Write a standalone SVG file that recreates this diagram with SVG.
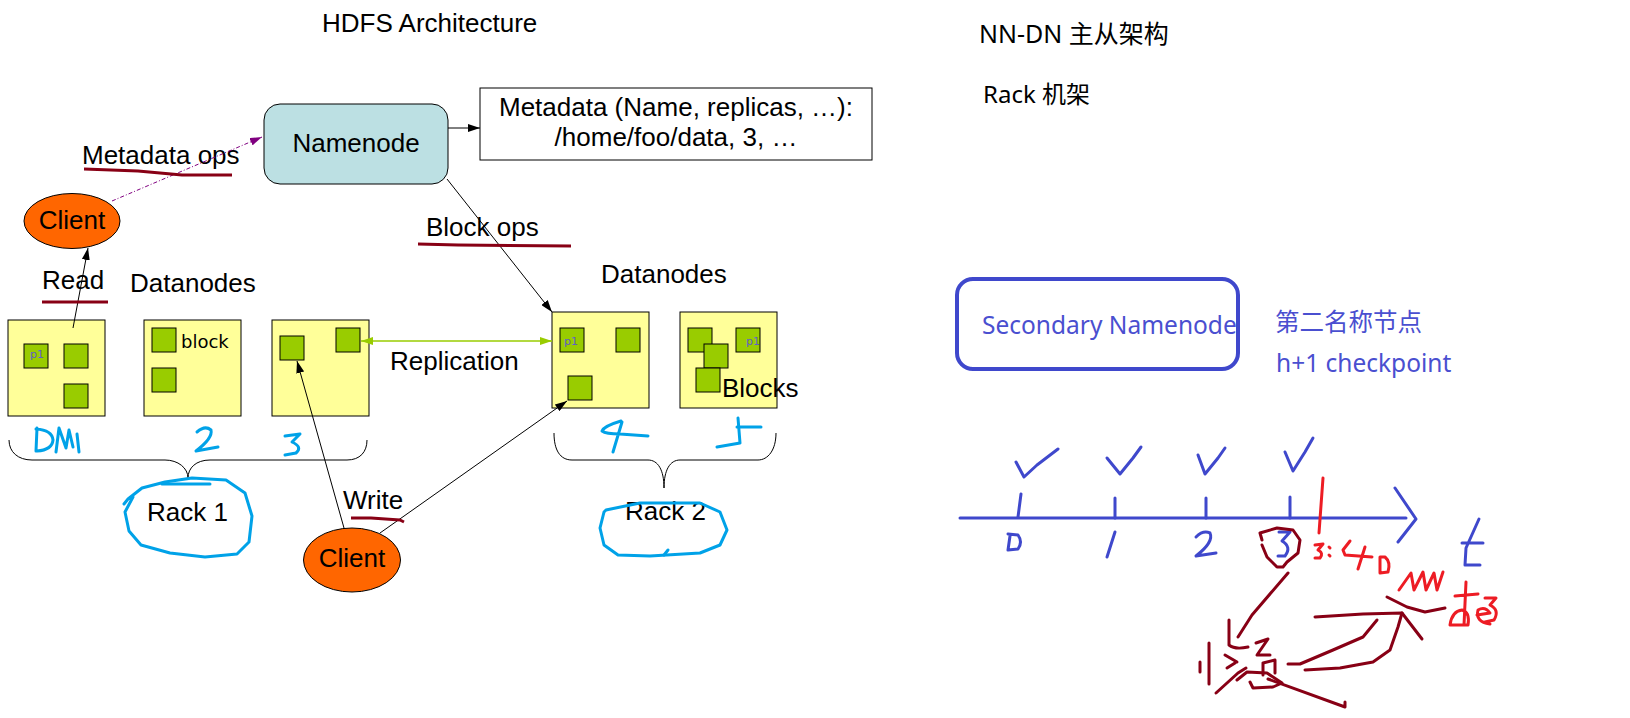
<svg xmlns="http://www.w3.org/2000/svg" width="1630" height="718" viewBox="0 0 1630 718">
<defs>
<style>
.t{font-family:"Liberation Sans",Arial,sans-serif;font-size:26px;fill:#000}
.ns{font-family:"Noto Sans","Noto Sans CJK SC",sans-serif;font-size:24px;fill:#000}
.sn{font-family:"Noto Sans","Noto Sans CJK SC",sans-serif;font-size:24.5px;fill:#4a4fd0}
.dn{fill:#ffff99;stroke:#000;stroke-width:1}
.blk{fill:#99cc00;stroke:#000;stroke-width:1}
.p1{font-family:"DejaVu Sans",sans-serif;font-size:11px;fill:#6060c8}
.cl{fill:#ff6600;stroke:#000;stroke-width:1}
.ln{fill:none;stroke:#000;stroke-width:1}
.ul{fill:none;stroke:#880015;stroke-width:3;stroke-linejoin:round}
.lb{fill:none;stroke:#00a2e8;stroke-width:3;stroke-linecap:round;stroke-linejoin:round}
.ind{fill:none;stroke:#3f48cc;stroke-width:3;stroke-linecap:round;stroke-linejoin:round}
.red{fill:none;stroke:#ed1c24;stroke-width:3;stroke-linecap:round;stroke-linejoin:round}
.dr{fill:none;stroke:#880015;stroke-width:3;stroke-linecap:round;stroke-linejoin:round}
</style>
<marker id="ab" viewBox="0 0 12 8" refX="12" refY="4" markerWidth="12" markerHeight="8" markerUnits="userSpaceOnUse" orient="auto"><path d="M0,0 L12,4 L0,8 z" fill="#000"/></marker>
<marker id="ap" viewBox="0 0 12 8" refX="12" refY="4" markerWidth="12" markerHeight="8" markerUnits="userSpaceOnUse" orient="auto"><path d="M0,0 L12,4 L0,8 z" fill="#800080"/></marker>
<marker id="ag" viewBox="0 0 12 8" refX="12" refY="4" markerWidth="12" markerHeight="8" markerUnits="userSpaceOnUse" orient="auto-start-reverse"><path d="M0,0 L12,4 L0,8 z" fill="#99cc00"/></marker>
</defs>
<rect width="1630" height="718" fill="#fff"/>

<text class="t" x="322" y="32">HDFS Architecture</text>

<g id="namenode">
<rect x="264" y="104" width="184" height="80" rx="16" fill="#bce0e3" stroke="#000" stroke-width="1"/>
<text class="t" x="356" y="152" text-anchor="middle">Namenode</text>
</g>

<g id="metadata">
<rect x="480" y="88" width="392" height="72" fill="#fff" stroke="#000" stroke-width="1"/>
<text class="t" x="676" y="116" text-anchor="middle">Metadata (Name, replicas, …):</text>
<text class="t" x="676" y="146" text-anchor="middle">/home/foo/data, 3, …</text>
</g>

<g id="client-read">
<ellipse class="cl" cx="72" cy="221" rx="48" ry="27.5"/>
<text class="t" x="72" y="229" text-anchor="middle">Client</text>
</g>

<g id="client-write">
<ellipse class="cl" cx="352" cy="560" rx="48.5" ry="32"/>
<text class="t" x="352" y="567" text-anchor="middle">Client</text>
</g>

<g id="dn1">
<rect class="dn" x="8" y="320" width="97" height="96"/>
<rect class="blk" x="24" y="344" width="24" height="24"/>
<text class="p1" x="30" y="358">p1</text>
<rect class="blk" x="64" y="344" width="24" height="24"/>
<rect class="blk" x="64" y="384" width="24" height="24"/>
</g>

<g id="dn2">
<rect class="dn" x="144" y="320" width="97" height="96"/>
<rect class="blk" x="152" y="328" width="24" height="24"/>
<rect class="blk" x="152" y="368" width="24" height="24"/>
<text x="181" y="348" style="font-family:'DejaVu Sans',sans-serif;font-size:18px;fill:#000">block</text>
</g>

<g id="dn3">
<rect class="dn" x="272" y="320" width="97" height="96"/>
<rect class="blk" x="280" y="336" width="24" height="24"/>
<rect class="blk" x="336" y="328" width="24" height="24"/>
</g>

<g id="dn4">
<rect class="dn" x="552" y="312" width="97" height="96"/>
<rect class="blk" x="560" y="328" width="24" height="24"/>
<text class="p1" x="564" y="345">p1</text>
<rect class="blk" x="616" y="328" width="24" height="24"/>
<rect class="blk" x="568" y="376" width="24" height="24"/>
</g>

<g id="dn5">
<rect class="dn" x="680" y="312" width="97" height="96"/>
<rect class="blk" x="688" y="328" width="24" height="24"/>
<rect class="blk" x="704" y="344" width="24" height="24"/>
<rect class="blk" x="696" y="368" width="24" height="24"/>
<rect class="blk" x="736" y="328" width="24" height="24"/>
<text class="p1" x="746" y="345">p1</text>
<text class="t" x="722" y="397">Blocks</text>
</g>

<g id="labels">
<text class="t" x="82" y="164">Metadata ops</text>
<text class="t" x="426" y="236">Block ops</text>
<text class="t" x="42" y="289">Read</text>
<text class="t" x="130" y="292">Datanodes</text>
<text class="t" x="601" y="283">Datanodes</text>
<text class="t" x="390" y="370">Replication</text>
<text class="t" x="343" y="509">Write</text>
<text class="t" x="147" y="521">Rack 1</text>
<text class="t" x="625" y="520">Rack 2</text>
</g>

<g id="connectors">
<line class="ln" x1="448" y1="128" x2="480" y2="128" marker-end="url(#ab)"/>
<line class="ln" x1="447" y1="179" x2="552" y2="312" marker-end="url(#ab)"/>
<line x1="112" y1="201" x2="262" y2="137" stroke="#800080" stroke-width="1" stroke-dasharray="4,2,1,2" marker-end="url(#ap)"/>
<line class="ln" x1="73" y1="328" x2="88" y2="248" marker-end="url(#ab)"/>
<line class="ln" x1="344" y1="528" x2="297" y2="361" marker-end="url(#ab)"/>
<line class="ln" x1="380" y1="533" x2="567" y2="401" marker-end="url(#ab)"/>
<line x1="361" y1="341" x2="552" y2="341" stroke="#99cc00" stroke-width="1.5" marker-start="url(#ag)" marker-end="url(#ag)"/>
<path class="ln" d="M9,440 C9,452 18,460 32,460 L165,460 C178,460 188,468 188,478 C188,468 196,460 210,460 L347,460 C360,460 367,452 367,440"/>
<path class="ln" d="M554,433 C554,450 560,460 572,460 L648,460 C658,460 664,470 664,488 C664,470 670,460 680,460 L758,460 C768,460 776,450 776,433"/>
</g>

<g id="underlines">
<path class="ul" d="M84,169 L138,171 L182,175 L232,175"/>
<path class="ul" d="M42,302 L108,302"/>
<path class="ul" d="M418,244 L458,245 L571,246"/>
<path class="ul" d="M351,518 L371,518 L400,520 L404,522"/>
</g>

<g id="rack-ink">
<path class="lb" d="M37,428 L36,451 M36,429 Q52,430 53,440 Q52,450 37,451"/>
<path class="lb" d="M56,452 L59,428 L66,448 L69,430 L73,447"/>
<path class="lb" d="M77,434 L79,452"/>
<path class="lb" d="M197,432 Q205,425 211,430 Q213,438 196,451 L218,447"/>
<path class="lb" d="M285,436 L300,434 L292,442 Q303,447 296,453 L285,455"/>
<path class="lb" d="M621,421 Q604,426 602,431 Q606,434 620,434 L648,436 M622,422 L613,452"/>
<path class="lb" d="M738,418 L740,443 L717,447 M737,427 L761,427"/>
<path class="lb" d="M124,504 L128,499 L142,488 L165,482 L192,478 L226,480 L245,493 L252,516 L249,542 L237,554 L205,557 L170,553 L141,545 L129,531 L125,512 L133,497"/>
<path class="lb" d="M162,484 L210,484" stroke-width="1.5"/>
<path class="lb" d="M606,510 L640,503 L700,503 L720,512 L727,530 L720,545 L700,553 L650,556 L618,555 L604,545 L600,528 L604,512 Z"/>
<path class="lb" d="M664,555 L668,550"/>
</g>

<g id="notes">
<text class="ns" x="979" y="43" style="font-size:25px">NN-DN 主从架构</text>
<text class="ns" x="983" y="103">Rack 机架</text>
</g>

<g id="secondary-namenode">
<rect x="957" y="279" width="281" height="90" rx="16" fill="none" stroke="#3f48cc" stroke-width="4"/>
<text class="sn" x="982" y="334">Secondary Namenode</text>
</g>
<g id="secondary-notes">
<text class="sn" x="1275" y="331">第二名称节点</text>
<text class="sn" x="1276" y="372">h+1 checkpoint</text>
</g>

<g id="timeline">
<path class="ind" stroke-width="4" d="M960,518 L1406,518"/>
<path class="ind" d="M1395,488 L1416,519 L1398,542"/>
<path class="ind" d="M1021,494 L1018,517 M1115,498 L1115,518 M1206,498 L1206,518 M1290,497 L1290,518"/>
<path class="ind" d="M1016,462 L1024,477 L1037,465 L1058,449"/>
<path class="ind" d="M1107,458 L1120,474 L1133,458 L1141,447"/>
<path class="ind" d="M1198,455 L1205,474 L1218,458 L1225,448"/>
<path class="ind" d="M1285,452 L1293,471 L1305,452 L1313,438"/>
<path class="ind" d="M1010,536 L1008,550 L1018,549 Q1023,542 1018,535 L1008,534"/>
<path class="ind" d="M1115,532 L1107,557"/>
<path class="ind" d="M1196,537 Q1203,530 1210,533 Q1214,542 1196,556 L1216,553"/>
<path class="ind" d="M1279,532 L1290,532 L1282,541 Q1292,547 1285,556 L1278,556"/>
<path class="ind" d="M1479,519 L1466,548 L1465,565 L1480,565 M1462,543 L1483,543"/>
<path class="red" d="M1323,478 L1319,533"/>
<path class="red" d="M1315,545 L1323,544 L1318,550 Q1324,553 1320,558 L1315,558 M1329,547 L1330,548 M1329,555 L1330,556"/>
<path class="red" d="M1350,541 L1343,550 L1345,555 L1372,557 M1365,547 L1358,569"/>
<path class="red" d="M1380,557 L1380,573 L1388,572 Q1391,562 1385,557 Z"/>
<path class="red" d="M1399,590 L1411,573 L1414,590 L1423,572 L1426,590 L1434,573 L1437,590 L1443,572"/>
<path class="red" d="M1466,582 L1464,625 M1455,596 L1478,594 M1450,625 Q1452,611 1462,610 Q1470,612 1468,625 L1450,625 M1477,615 L1490,613 Q1485,606 1478,610 Q1475,622 1490,624 M1485,598 L1496,598 L1490,605 Q1500,610 1494,620 L1485,622"/>
</g>

<g id="recover-ink">
<path class="dr" d="M1262,540 L1260,533 L1277,528 L1293,530 L1300,540 L1298,553 L1287,562 L1283,567 L1277,567 L1267,557 L1262,545"/>
<path class="dr" d="M1288,573 L1252,615 L1238,637"/>
<path class="dr" d="M1229,620 L1229,645 Q1235,650 1248,647"/>
<path class="dr" d="M1209,643 L1209,684 M1200,662 L1200,672"/>
<path class="dr" d="M1225,655 L1237,662 M1227,668 L1235,663"/>
<path class="dr" d="M1216,693 L1238,673 L1246,668"/>
<path class="dr" d="M1256,643 L1268,639 L1257,655 L1270,655"/>
<path class="dr" d="M1263,663 L1263,675 M1263,663 L1275,660 L1275,673"/>
<path class="dr" d="M1237,680 L1247,672 L1267,673 L1282,683 L1273,687 L1253,688 L1250,682"/>
<path class="dr" d="M1268,679 L1345,707 L1345,702"/>
<path class="dr" d="M1288,664 L1300,664 L1333,650 L1363,637 L1377,620"/>
<path class="dr" d="M1305,670 L1340,668 L1373,662 L1390,650 L1398,627 L1402,613"/>
<path class="dr" d="M1315,617 L1363,614 L1402,613 L1422,639"/>
<path class="dr" d="M1387,597 L1407,607 L1425,612 L1445,608"/>
</g>
</svg>
